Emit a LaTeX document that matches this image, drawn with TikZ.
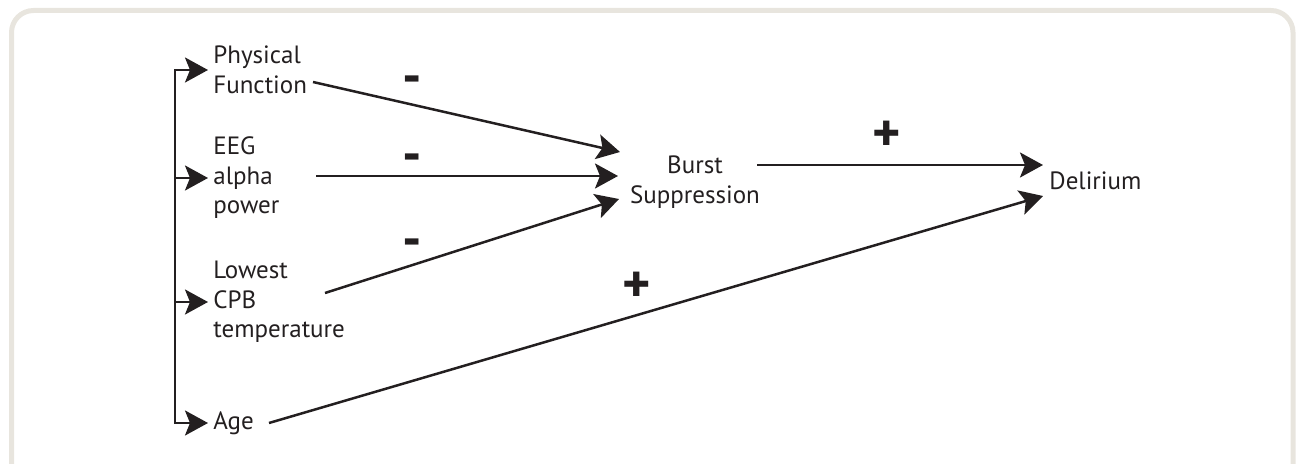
\documentclass[tikz,border=0pt]{standalone}
\usepackage{fontspec}
\setmainfont{PT Sans}
\usepackage{xcolor}
\definecolor{inkblack}{RGB}{35,31,32}
\definecolor{framegray}{RGB}{232,229,222}
\usepackage{tikz}
\usetikzlibrary{arrows.meta,positioning,calc}

\begin{document}
\begin{tikzpicture}[x=0.5pt,y=-0.5pt]
	\tikzstyle{varnode}=[inner xsep=2.5pt,inner ysep=0pt,align=left,
	font=\fontsize{12.5}{14.8}\selectfont,text=inkblack]
	\tikzstyle{arr}=[-{Stealth[length=11.5pt,width=12.5pt,inset=2.5pt]},
	line width=1.25pt,draw=inkblack]
	\tikzstyle{sign}=[inner sep=0pt,text=inkblack,
	font=\fontsize{27}{27}\selectfont\bfseries]
	\useasboundingbox (0,0) rectangle (1300,464);
	\begin{scope}
		\clip (0,0) rectangle (1300,464);
		\draw[framegray,line width=2.5pt,rounded corners=11pt] (11.5,10.5) rectangle (1293,600);
	\end{scope}
	% left column
	\node[varnode,anchor=west] (phys) at (208,70)  {Physical\\Function};
	\node[varnode,anchor=west] (eeg)  at (208,178) {EEG\\alpha\\power};
	\node[varnode,anchor=west] (cpb)  at (208,302) {Lowest\\CPB\\temperature};
	\node[varnode,anchor=west] (age)  at (208,423) {Age};
	% middle and right
	\node[varnode,inner sep=0pt,align=center] (burst) at (695,182) {Burst\\Suppression};
	\node[varnode,anchor=west,inner xsep=3pt] (del) at (1043,181) {Delirium};
	% bracket
	\coordinate (brk) at (175,0);
	\draw[arr] (brk |- age.west) |- (phys.west);
	\draw[arr] (brk |- phys.west) |- (age.west);
	\draw[arr] (brk |- eeg.west) -- (eeg.west);
	\draw[arr] (brk |- cpb.west) -- (cpb.west);
	% effects
	\draw[arr] ([shift={(105,12)}]phys.west) -- ([shift={(-75,-30)}]burst.center);
	\draw[arr] ([shift={(108,-2)}]eeg.west)  -- ([shift={(-77,-6)}]burst.center);
	\draw[arr] ([shift={(117,-9)}]cpb.west)  -- ([shift={(-76,17)}]burst.center);
	\draw[arr] ([shift={(62,-17)}]burst.center) -- ([shift={(0,-16)}]del.west);
	\draw[arr] ([shift={(61,0)}]age.west) -- ([shift={(0,15)}]del.west);
	% signs
	\node[sign] (minA) at (412,85)  {-};
	\node[sign] (minB) at (412,163) {-};
	\node[sign] (minC) at (412,248) {-};
	\node[sign] (plusA) at (887,136) {+};
	\node[sign] (plusB) at (637,287) {+};
\end{tikzpicture}
\end{document}
